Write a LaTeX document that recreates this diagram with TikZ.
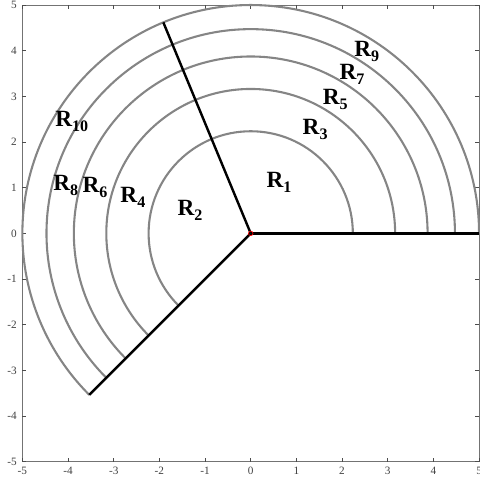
\documentclass[tikz,border=0pt]{standalone}
\usepackage{fontspec}
\setmainfont{Liberation Serif}
\usepackage{tikz}

\newcommand{\rlab}[1]{R\raisebox{-0.45ex}{\fontsize{10}{10}\selectfont #1}}

\begin{document}
\begin{tikzpicture}[x=1cm, y=1cm,
  ring/.style={draw=black!48, line width=1.3pt},
  edge/.style={draw=black, line width=1.5pt},
  frame/.style={draw=black!55, line width=0.6pt},
  tick/.style={draw=black!70, line width=0.5pt},
  ticklab/.style={font=\fontsize{7}{7}\selectfont, text=black!75, inner sep=1pt},
  region/.style={font=\fontsize{14.5}{14.5}\selectfont\bfseries, inner sep=0pt}]
\useasboundingbox (-5.49,-5.51) rectangle (5.0,5.11);

% axes box and ticks
\draw[frame] (-5,-5) rectangle (5,5);
\foreach \t in {-5,...,5} {
  \draw[tick] (\t,-5) -- ++(0,0.08);
  \draw[tick] (\t,5) -- ++(0,-0.08);
  \draw[tick] (-5,\t) -- ++(0.08,0);
  \draw[tick] (5,\t) -- ++(-0.08,0);
  \node[ticklab, anchor=north] (xl\t) at (\t,-5.08) {\t};
  \node[ticklab, anchor=east] (yl\t) at (-5.08,\t) {\t};
}

% rings
\foreach \r in {2.236,3.162,3.873,4.472,5} {
  \draw[ring] (\r,0) arc[start angle=0, end angle=225, radius=\r];
}

% sector boundaries
\coordinate (o) at (0,0);
\coordinate (east) at (5,0);
\coordinate (top) at (112.5:5);
\coordinate (low) at (225:5);
\draw[edge] (o) -- (east);
\draw[edge] (o) -- (top);
\draw[edge] (o) -- (low);
\draw[red, line width=0.4pt] (o) circle (0.05);

% region labels
\node[region] (r1) at (0.62,1.12) {\rlab{1}};
\node[region] (r2) at (-1.33,0.50) {\rlab{2}};
\node[region] (r3) at (1.41,2.28) {\rlab{3}};
\node[region] (r4) at (-2.58,0.78) {\rlab{4}};
\node[region] (r5) at (1.85,2.93) {\rlab{5}};
\node[region] (r6) at (-3.41,1.00) {\rlab{6}};
\node[region] (r7) at (2.22,3.48) {\rlab{7}};
\node[region] (r8) at (-4.05,1.05) {\rlab{8}};
\node[region] (r9) at (2.54,3.98) {\rlab{9}};
\node[region] (r10) at (-3.92,2.45) {\rlab{10}};
\end{tikzpicture}
\end{document}
